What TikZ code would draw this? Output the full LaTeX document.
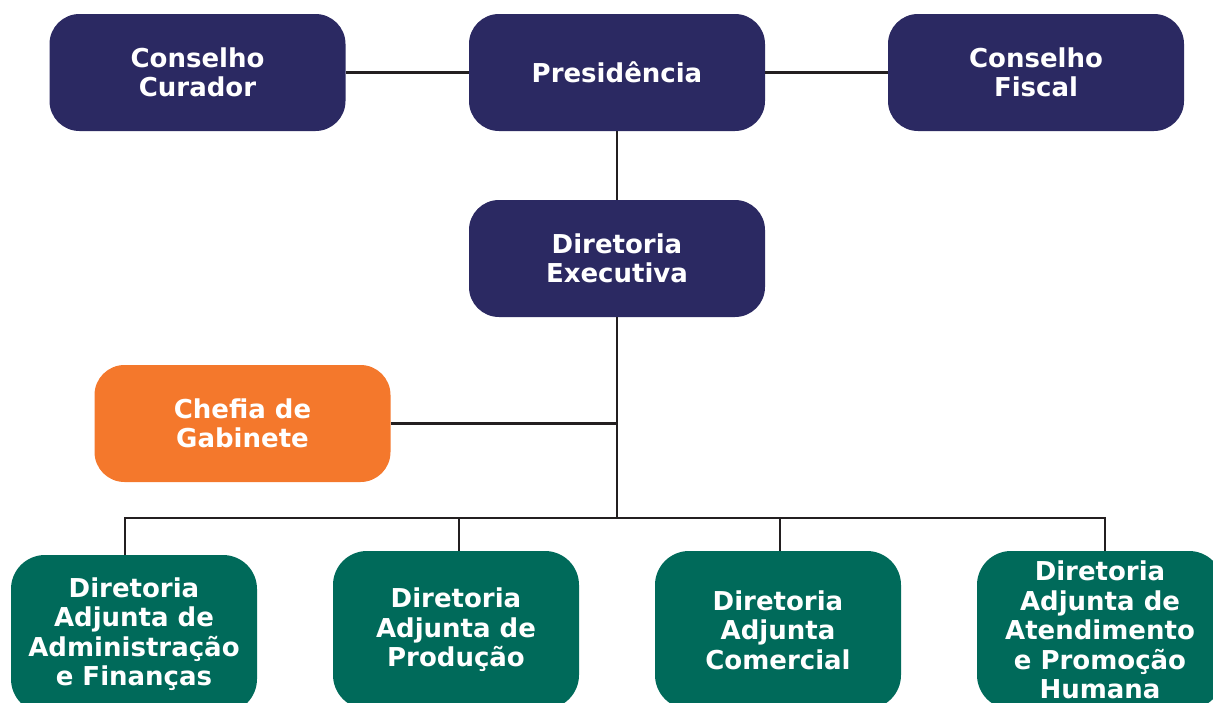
\documentclass[tikz,border=0pt]{standalone}
\usepackage{fontspec}
\setmainfont{DejaVu Sans}
\definecolor{navy}{RGB}{43,41,98}
\definecolor{deepgreen}{RGB}{0,106,90}
\definecolor{tangerine}{RGB}{244,120,44}
\definecolor{linegray}{RGB}{35,31,32}
\tikzset{
  orgbox/.style={rounded corners=30pt, minimum width=296pt, minimum height=117pt,
    text=white, font=\bfseries\fontsize{26}{29.5}\selectfont, align=center, inner sep=0pt},
  topbox/.style={orgbox, fill=navy},
  subbox/.style={orgbox, fill=deepgreen, minimum width=246pt, minimum height=158pt, rounded corners=34pt},
  link/.style={draw=linegray, line width=2.5pt}
}
\begin{document}
\begin{tikzpicture}[x=1pt,y=-1pt]
	\useasboundingbox (0,0) rectangle (1213,702);
	\clip (0,0) rectangle (1213,702);
	% top row
	\node [topbox] (cur) at (197.5,72.5) {Conselho\\Curador};
	\node [topbox] (pres) at (617,72.5) {Presidência};
	\node [topbox] (fis) at (1036,72.5) {Conselho\\Fiscal};
	\node [topbox] (dex) at (617,258.5) {Diretoria\\Executiva};
	\node [orgbox, fill=tangerine] (chefia) at (242.5,423.5) {Chefia de\\Gabinete};
	% adjuntas
	\node [subbox] (daf) at (134,634) {Diretoria\\Adjunta de\\Administração\\e Finanças};
	\node [subbox] (dap) at (456,630) {Diretoria\\Adjunta de\\Produção};
	\node [subbox] (dac) at (778,630) {Diretoria\\Adjunta\\Comercial};
	\node [subbox] (dapo) at (1100,630) {Diretoria\\Adjunta de\\Atendimento\\e Promoção\\Humana};
	\coordinate (bus) at (617,518);
	% connectors
	\draw [link] (cur) -- (pres);
	\draw [link] (pres) -- (fis);
	\draw [link] (pres) -- (dex);
	\draw [link] (dex.south) -- (bus);
	\draw [link] (chefia.east) -- (chefia.east -| bus);
	\draw [link] ([xshift=-9pt]daf.north) |- (bus) -| ([xshift=5pt]dapo.north);
	\draw [link] ([xshift=3pt]dap.north) -- ([xshift=3pt]dap.north |- bus);
	\draw [link] ([xshift=2pt]dac.north) -- ([xshift=2pt]dac.north |- bus);
\end{tikzpicture}
\end{document}
